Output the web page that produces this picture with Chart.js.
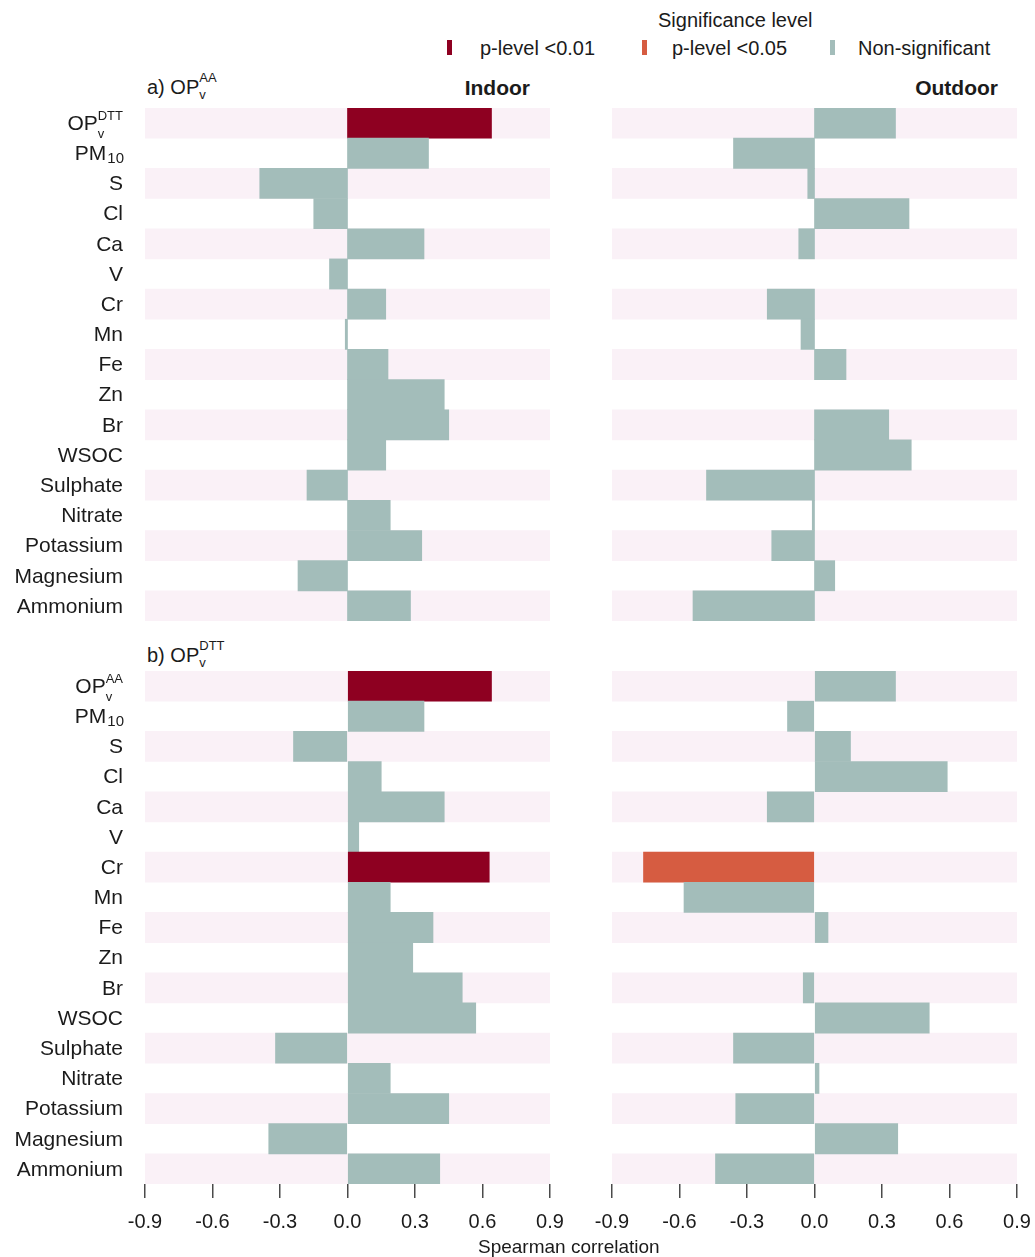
<!DOCTYPE html>
<html>
<head>
<meta charset="utf-8">
<script src="https://cdn.jsdelivr.net/npm/chart.js@4.4.1/dist/chart.umd.min.js"></script>
<style>
body{margin:0;background:#fff;font-family:"Liberation Sans",Arial,sans-serif;color:#1b1b1b;}
#wrap{position:relative;width:1035px;height:1257px;overflow:hidden;}
canvas{position:absolute;}
.t{position:absolute;white-space:nowrap;line-height:1;font-size:20px;}
.op{position:relative;}
.op .sp{position:absolute;left:100%;top:-5px;font-size:13px;}
.op .sb{position:absolute;left:100%;top:12px;font-size:13px;}
.mk{position:absolute;width:5px;height:15px;}
</style>
</head>
<body>
<div id="wrap">
  <div class="t" style="left:658px;top:10px;font-size:20px">Significance level</div>
  <div id="legend"></div>

  <div class="t" style="left:147px;top:77px">a) <span class="op">OP<span class="sp">AA</span><span class="sb">v</span></span></div>
  <div class="t" style="right:505px;top:77px;font-weight:bold;font-size:21px">Indoor</div>
  <div class="t" style="right:37px;top:77px;font-weight:bold;font-size:21px">Outdoor</div>

  <div class="t" style="left:147px;top:645px">b) <span class="op">OP<span class="sp">DTT</span><span class="sb">v</span></span></div>

  <canvas id="inA" width="585" height="530" style="left:0;top:100px"></canvas>
  <canvas id="outA" width="490" height="530" style="left:572px;top:100px"></canvas>
  <canvas id="inB" width="585" height="594" style="left:0;top:663px"></canvas>
  <canvas id="outB" width="490" height="594" style="left:572px;top:663px"></canvas>

  <div class="t" style="left:478px;top:1237px;font-size:19px">Spearman correlation</div>
</div>
<script>
// rows (top to bottom); "_" = subscript, "^" = superscript
const rowsA = ['OP_v^DTT','PM_10','S','Cl','Ca','V','Cr','Mn','Fe','Zn','Br','WSOC','Sulphate','Nitrate','Potassium','Magnesium','Ammonium'];
const rowsB = ['OP_v^AA','PM_10','S','Cl','Ca','V','Cr','Mn','Fe','Zn','Br','WSOC','Sulphate','Nitrate','Potassium','Magnesium','Ammonium'];

// Spearman correlations
const indoorA  = [0.64, 0.36,-0.39,-0.15, 0.34,-0.08, 0.17,-0.01, 0.18, 0.43, 0.45, 0.17,-0.18, 0.19, 0.33,-0.22, 0.28];
const outdoorA = [0.36,-0.36,-0.03, 0.42,-0.07, null,-0.21,-0.06, 0.14, null, 0.33, 0.43,-0.48,-0.01,-0.19, 0.09,-0.54];
const indoorB  = [0.64, 0.34,-0.24, 0.15, 0.43, 0.05, 0.63, 0.19, 0.38, 0.29, 0.51, 0.57,-0.32, 0.19, 0.45,-0.35, 0.41];
const outdoorB = [0.36,-0.12, 0.16, 0.59,-0.21, null,-0.76,-0.58, 0.06, null,-0.05, 0.51,-0.36, 0.02,-0.35, 0.37,-0.44];

// significance: 0 = p<0.01, 1 = p<0.05, 2 = non-significant
const sigInA  = [0,2,2,2,2,2,2,2,2,2,2,2,2,2,2,2,2];
const sigOutA = [2,2,2,2,2,2,2,2,2,2,2,2,2,2,2,2,2];
const sigInB  = [0,2,2,2,2,2,0,2,2,2,2,2,2,2,2,2,2];
const sigOutB = [2,2,2,2,2,2,1,2,2,2,2,2,2,2,2,2,2];

const levels = ['p-level <0.01','p-level <0.05','Non-significant'];
const levelColors = ['#8e0021','#d65c41','#a3bdba'];

const tickValues = [-0.9,-0.6,-0.3,0,0.3,0.6,0.9];
const tickLabels = ['-0.9','-0.6','-0.3','0.0','0.3','0.6','0.9'];

const FONT = '"Liberation Sans", Arial, sans-serif';
const stripe = '#faf1f7';

// legend
const legendPos = [[447,480],[642,672],[830,858]];
document.getElementById('legend').innerHTML = levels.map((l,i)=>
  `<span class="mk" style="left:${legendPos[i][0]}px;top:40px;background:${levelColors[i]}"></span>`+
  `<span class="t" style="left:${legendPos[i][1]}px;top:38px;font-size:20px">${l}</span>`).join('');

function drawRich(ctx,label,xRight,y){
  const m = label.match(/^([^_^]+)(?:_([^^]+))?(?:\^(.+))?$/);
  const base=m[1], sub=m[2]||'', sup=m[3]||'';
  const big = '21px '+FONT, small = (sup?'13px ':'15px ')+FONT;
  ctx.font=big; const wb=ctx.measureText(base).width;
  ctx.font=small; const ws=Math.max(ctx.measureText(sub).width, ctx.measureText(sup).width);
  const x = xRight - wb - ws;
  ctx.fillStyle='#1b1b1b'; ctx.textAlign='left'; ctx.textBaseline='middle';
  ctx.font=big; ctx.fillText(base,x,y);
  ctx.font=small;
  if(sup) ctx.fillText(sup,x+wb,y-8);
  if(sub) ctx.fillText(sub,x+wb+(sup?0:1),y+(sup?10:5));
}

const rowLabelPlugin = {
  id:'rowLabels',
  afterDraw(chart,args,opts){
    if(!opts.labels) return;
    const ctx=chart.ctx, ys=chart.scales.y;
    ctx.save();
    opts.labels.forEach((l,i)=>drawRich(ctx,l,chart.chartArea.left-22,ys.getPixelForValue(i)+1));
    ctx.restore();
  }
};

function makeChart(id,rows,values,sig,withLabels,withAxis,pad){
  new Chart(document.getElementById(id),{
    type:'bar',
    data:{
      labels:rows,
      datasets:[
        {data:values,backgroundColor:sig.map(s=>levelColors[s]),grouped:false,order:1,
         barPercentage:1,categoryPercentage:1,borderWidth:0},
        {data:rows.map((_,i)=>i%2===0?[-0.9,0.9]:null),backgroundColor:stripe,grouped:false,order:2,
         barPercentage:1,categoryPercentage:1,borderWidth:0}
      ]
    },
    options:{
      indexAxis:'y',
      responsive:false,
      animation:false,
      layout:{padding:pad},
      plugins:{legend:{display:false},tooltip:{enabled:false},rowLabels:{labels:withLabels?rows:null}},
      scales:{
        x:{
          min:-0.9,max:0.9,
          display:withAxis,
          afterBuildTicks:s=>{s.ticks=tickValues.map(v=>({value:v}));},
          afterFit:s=>{if(withAxis) s.height=50;},
          grid:{display:true,drawOnChartArea:false,drawTicks:true,tickLength:14,color:'#4a4a4a',lineWidth:1.5},
          border:{display:false},
          ticks:{padding:12,color:'#1b1b1b',font:{family:FONT,size:20},maxRotation:0,autoSkip:false,
                 callback:(v,i)=>tickLabels[i]}
        },
        y:{display:false}
      }
    },
    plugins:[rowLabelPlugin]
  });
}

makeChart('inA', rowsA, indoorA, sigInA, true, false, {left:145,right:35,top:8,bottom:9});
makeChart('outA',rowsA, outdoorA,sigOutA,false,false, {left:40,right:45,top:8,bottom:9});
makeChart('inB', rowsB, indoorB, sigInB, true, true,  {left:145,right:35,top:8,bottom:23});
makeChart('outB',rowsB, outdoorB,sigOutB,false,true,  {left:40,right:45,top:8,bottom:23});
</script>
</body>
</html>
